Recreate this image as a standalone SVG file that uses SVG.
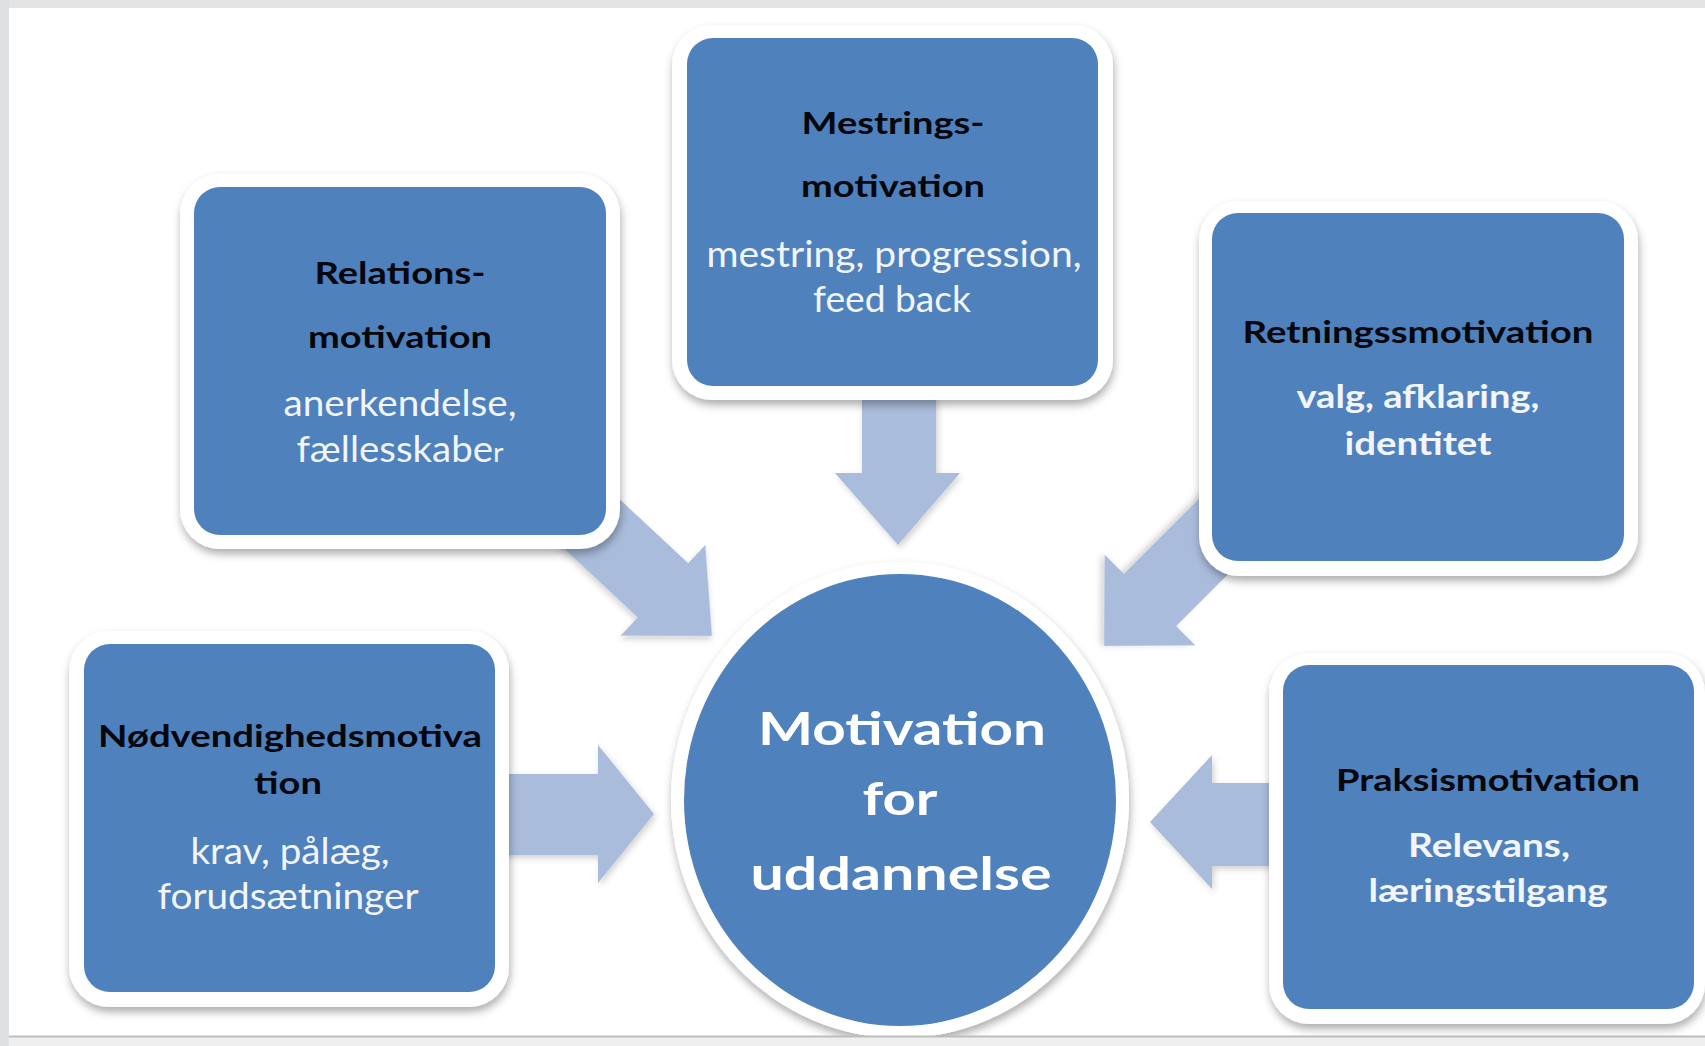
<svg xmlns="http://www.w3.org/2000/svg" width="1705" height="1046" viewBox="0 0 1705 1046">
<defs>
<style>
.frame{fill:#ffffff;filter:url(#sh)}
.box{fill:#4f81bd}
.arrow{fill:#a9bcdb;filter:url(#ash)}
.t{font-family:Lato,"Open Sans","Liberation Sans",sans-serif;font-weight:700;font-size:30px;fill:#05070d;text-anchor:middle}
.s{font-family:Lato,"Open Sans","Liberation Sans",sans-serif;font-weight:400;font-size:36px;fill:#f2f5fb;text-anchor:middle}
.sb{font-family:Lato,"Open Sans","Liberation Sans",sans-serif;font-weight:700;font-size:33px;fill:#f2f5fb;text-anchor:middle}
.c{font-family:Lato,"Open Sans","Liberation Sans",sans-serif;font-weight:700;font-size:46px;fill:#ffffff;text-anchor:middle}
</style>
<filter id="sh" x="-10%" y="-10%" width="125%" height="130%">
<feDropShadow dx="1" dy="5" stdDeviation="4" flood-color="#000000" flood-opacity="0.32"/>
</filter>
<filter id="ash" x="-20%" y="-20%" width="150%" height="150%">
<feDropShadow dx="2" dy="3" stdDeviation="3" flood-color="#000000" flood-opacity="0.18"/>
</filter>
</defs>

<rect x="0" y="0" width="1705" height="1046" fill="#ffffff"/>

<g id="connectors">
<polygon class="arrow" points="862,395 936,395 936,473 960,473 898,545 835,473 862,473"/>
<polygon class="arrow" points="500,774 598,774 598,745 654,814 598,883 598,855 500,855"/>
<polygon class="arrow" points="1285,783 1212,783 1212,755 1150,822 1212,889 1212,866 1285,866"/>
<polygon class="arrow" transform="translate(712,636) rotate(43)" points="-200,-37 -67,-37 -67,-62 0,0 -67,62 -67,37 -200,37"/>
<polygon class="arrow" transform="translate(1104,646) rotate(135)" points="-200,-37 -65,-37 -65,-64 0,0 -65,64 -65,37 -200,37"/>
</g>

<g id="node-relations">
<rect class="frame" x="180" y="174" width="440" height="375" rx="40"/>
<rect class="box" x="194" y="187" width="412" height="348" rx="26"/>
<text class="t" x="400" y="284" textLength="171" lengthAdjust="spacingAndGlyphs">Relations-</text>
<text class="t" x="400" y="348" textLength="184" lengthAdjust="spacingAndGlyphs">motivation</text>
<text class="s" x="400" y="416" textLength="233" lengthAdjust="spacingAndGlyphs">anerkendelse,</text>
<text class="s" x="400" y="462" textLength="207" lengthAdjust="spacingAndGlyphs">fællesskabe<tspan font-size="27px">r</tspan></text>
</g>

<g id="node-mestrings">
<rect class="frame" x="672" y="25" width="441" height="375" rx="40"/>
<rect class="box" x="687" y="38" width="411" height="348" rx="26"/>
<text class="t" x="893" y="134" textLength="183" lengthAdjust="spacingAndGlyphs">Mestrings-</text>
<text class="t" x="893" y="197" textLength="184" lengthAdjust="spacingAndGlyphs">motivation</text>
<text class="s" x="894" y="267" textLength="375" lengthAdjust="spacingAndGlyphs">mestring, progression,</text>
<text class="s" x="892" y="312" textLength="158" lengthAdjust="spacingAndGlyphs">feed back</text>
</g>

<g id="node-retnings">
<rect class="frame" x="1199" y="201" width="439" height="375" rx="40"/>
<rect class="box" x="1212" y="213" width="412" height="348" rx="26"/>
<text class="t" x="1418" y="343" textLength="351" lengthAdjust="spacingAndGlyphs">Retningssmotivation</text>
<text class="sb" x="1418" y="408" textLength="243" lengthAdjust="spacingAndGlyphs">valg, afklaring,</text>
<text class="sb" x="1418" y="455" textLength="147" lengthAdjust="spacingAndGlyphs">identitet</text>
</g>

<g id="node-noedvendigheds">
<rect class="frame" x="69" y="631" width="440" height="376" rx="40"/>
<rect class="box" x="84" y="644" width="411" height="348" rx="26"/>
<text class="t" x="290" y="747" textLength="384" lengthAdjust="spacingAndGlyphs">Nødvendighedsmotiva</text>
<text class="t" x="288" y="794" textLength="68" lengthAdjust="spacingAndGlyphs">tion</text>
<text class="s" x="290" y="864" textLength="199" lengthAdjust="spacingAndGlyphs">krav, pålæg,</text>
<text class="s" x="288" y="909" textLength="261" lengthAdjust="spacingAndGlyphs">forudsætninger</text>
</g>

<g id="node-praksis">
<rect class="frame" x="1269" y="653" width="436" height="371" rx="40"/>
<rect class="box" x="1283" y="665" width="411" height="344" rx="26"/>
<text class="t" x="1488" y="791" textLength="304" lengthAdjust="spacingAndGlyphs">Praksismotivation</text>
<text class="sb" x="1489" y="857" textLength="162" lengthAdjust="spacingAndGlyphs">Relevans,</text>
<text class="sb" x="1488" y="902" textLength="239" lengthAdjust="spacingAndGlyphs">læringstilgang</text>
</g>

<g id="node-center">
<ellipse class="frame" cx="900" cy="800" rx="229" ry="238"/>
<ellipse class="box" cx="900" cy="800" rx="216" ry="226"/>
<text class="c" x="902" y="745" textLength="288" lengthAdjust="spacingAndGlyphs">Motivation</text>
<text class="c" x="900" y="815" textLength="75" lengthAdjust="spacingAndGlyphs">for</text>
<text class="c" x="901" y="890" textLength="301" lengthAdjust="spacingAndGlyphs">uddannelse</text>
</g>

<rect x="0" y="1036" width="1705" height="10" fill="#efefef"/>
<line x1="9" y1="1036.5" x2="1705" y2="1036.5" stroke="#bdbdbd" stroke-width="2"/>
<rect x="0" y="0" width="1705" height="8" fill="#e3e4e6"/>
<rect x="0" y="0" width="9" height="1046" fill="#dfe0e2"/>
</svg>
